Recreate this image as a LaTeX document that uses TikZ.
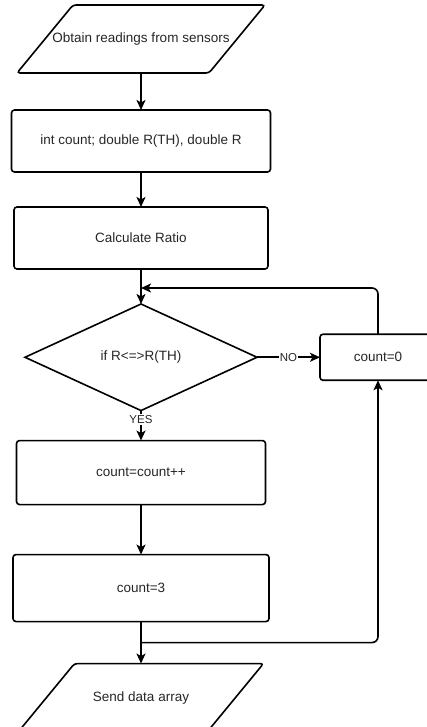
\documentclass[tikz,border=0pt]{standalone}
\usepackage{fontspec}
\setmainfont{Liberation Sans}
\usetikzlibrary{shapes.geometric,arrows.meta,positioning}

\begin{document}
\begin{tikzpicture}[x=1pt, y=-1pt,
    font=\fontsize{13.5}{16}\selectfont,
    line width=1.6pt,
    >={Stealth[length=10pt, width=9pt, inset=2.5pt]},
    every node/.style={outer sep=0pt},
    box/.style={draw, rounded corners=3pt, text=black!85},
    io/.style={minimum width=248pt, minimum height=68pt, text=black!85},
    slant/.style={rounded corners=3pt},
    lbl/.style={fill=white, inner sep=1pt, text=black!85,
      font=\fontsize{11.5}{13}\selectfont}]
      \useasboundingbox (0,0) rectangle (426,727);
      % Add the steps
      \node[io] (read) at (141,39) {Obtain readings from sensors};
      \node[box,
        below=37pt of read,
        minimum width=259pt,
        minimum height=62pt] (init) {int count; double R(TH), double R};
      \node[box,
        below=35pt of init,
        minimum width=254pt,
        minimum height=62pt] (ratio) {Calculate Ratio};
      \node[draw,
        diamond,
        below=35pt of ratio,
        text=black!85,
        minimum width=232pt,
        minimum height=100pt] (dec) {if R<=>R(TH)};
      \node[box,
        right=63pt of dec,
        minimum width=116pt,
        minimum height=46pt] (reset) {count=0};
      \node[box,
        below=30pt of dec,
        minimum width=249pt,
        minimum height=64pt] (inc) {count=count++};
      \node[box,
        below=50pt of inc,
        minimum width=256pt,
        minimum height=67pt] (three) {count=3};
      \node[io,
        below=42pt of three,
        minimum width=245pt] (send) {Send data array};
      % Slanted outlines of the input/output steps
      \draw[slant] ([xshift=56pt]read.north west) -- (read.north east)
        -- ([xshift=-56pt]read.south east) -- (read.south west) -- cycle;
      \draw[slant] ([xshift=56pt]send.north west) -- (send.north east)
        -- ([xshift=-56pt]send.south east) -- (send.south west) -- cycle;
      % Where the loops join the main line
      \coordinate[below=19pt of ratio] (merge1);
      \coordinate[below=21pt of three] (merge2);
      % Connect the steps with arrows
      \draw[->]
      (read) edge (init)
      (init) edge (ratio)
      (ratio) edge (dec)
      (dec) edge node[lbl] {NO} (reset)
      (dec) edge node[lbl, pos=0.3] {YES} (inc)
      (inc) edge (three)
      (three) edge (send);
      \draw[->, rounded corners=6pt] (reset.north) |- (merge1);
      \draw[->, rounded corners=6pt] (merge2) -| (reset.south);
\end{tikzpicture}
\end{document}
